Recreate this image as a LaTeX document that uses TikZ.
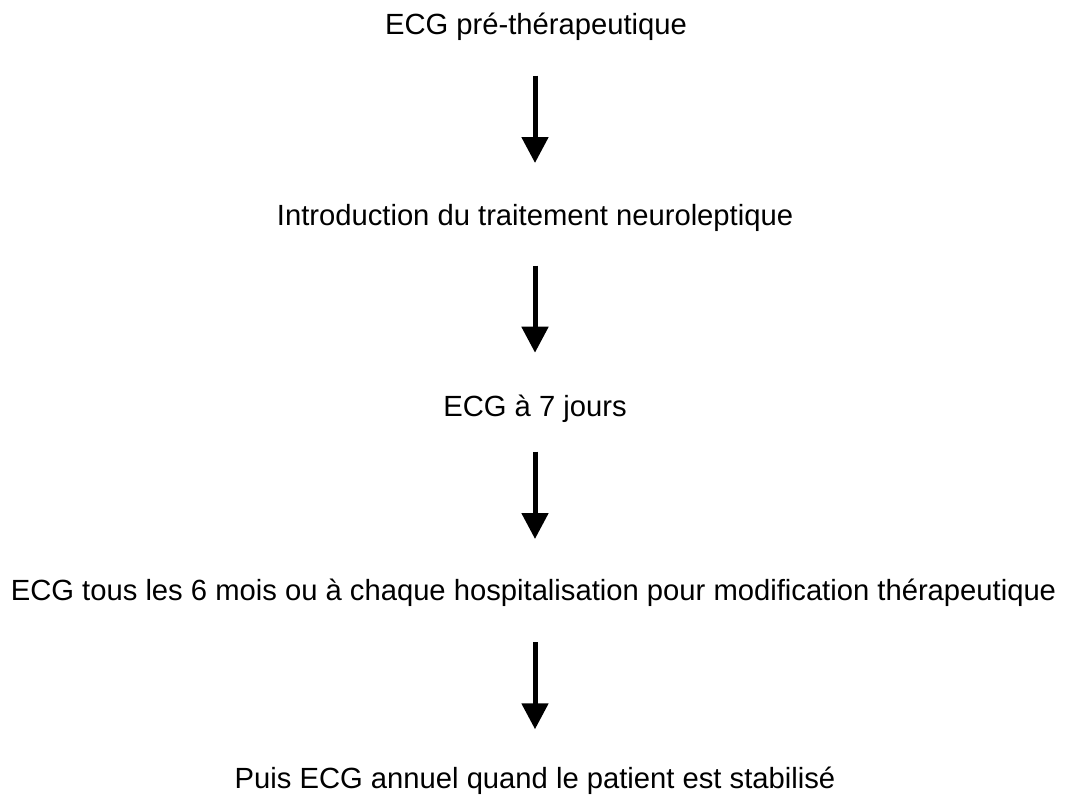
\documentclass[tikz,border=0pt]{standalone}
\usepackage{fontspec}
\setmainfont{Liberation Sans}
\usetikzlibrary{arrows.meta}
\begin{document}
\begin{tikzpicture}[x=1pt,y=-1pt,
  lbl/.style={anchor=base,inner sep=0pt,font=\fontsize{29.2}{35}\selectfont},
  arr/.style={line width=5pt,-{Triangle[width=26pt,length=26pt]}}]
\useasboundingbox (0,0) rectangle (1066,796);
\node[lbl] (t1) at (536,34) {ECG pré-thérapeutique};
\node[lbl] (t2) at (535,225) {Introduction du traitement neuroleptique};
\node[lbl] (t3) at (535,416) {ECG à 7 jours};
\node[lbl] (t4) at (533.5,600) {ECG tous les 6 mois ou à chaque hospitalisation pour modification thérapeutique};
\node[lbl] (t5) at (535,788) {Puis ECG annuel quand le patient est stabilisé};
\coordinate (a1s) at (535,75.7); \coordinate (a1e) at (535,163);
\coordinate (a2s) at (535,265.7); \coordinate (a2e) at (535,352.7);
\coordinate (a3s) at (535,451.7); \coordinate (a3e) at (535,539);
\coordinate (a4s) at (535,642.3); \coordinate (a4e) at (535,729.3);
\draw[arr] (a1s) -- (a1e);
\draw[arr] (a2s) -- (a2e);
\draw[arr] (a3s) -- (a3e);
\draw[arr] (a4s) -- (a4e);
\end{tikzpicture}
\end{document}
